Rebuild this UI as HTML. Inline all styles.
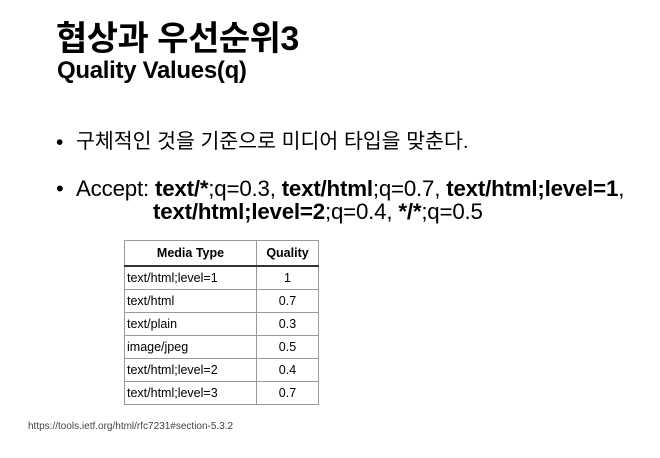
<!DOCTYPE html>
<html><head><meta charset="utf-8"><style>
body{margin:0;width:660px;height:458px;background:#fff;position:relative;overflow:hidden;font-family:"Liberation Sans","Noto Sans CJK KR",sans-serif;color:#000}
.a{position:absolute;white-space:nowrap;line-height:1.15}
table{position:absolute;left:124px;top:240px;border-collapse:collapse;font-size:12.5px;font-family:"Liberation Sans",sans-serif}
td,th{border:1px solid #999;padding:0 2px;height:22px}
th{height:24px;border-bottom:2px solid #333;font-weight:bold}
td:first-child{width:127px;text-align:left}
td:last-child{width:57px;text-align:center}
</style></head><body>
<div class="a" style="left:56px;top:20px;font-size:34px;font-weight:bold;letter-spacing:-0.5px">협상과 우선순위3</div>
<div class="a" style="left:57px;top:57px;font-size:24px;font-weight:bold;letter-spacing:-0.3px">Quality Values(q)</div>
<div class="a" style="left:56px;top:131px;font-size:21px">•</div>
<div class="a" style="left:76px;top:130px;font-size:20.5px">구체적인 것을 기준으로 미디어 타입을 맞춘다.</div>
<div class="a" style="left:56px;top:176px;font-size:22px">•</div>
<div class="a" style="left:76px;top:176px;font-size:22.3px;letter-spacing:-0.2px">Accept: <b>text/*</b>;q=0.3, <b>text/html</b>;q=0.7, <b>text/html;level=1</b>,</div>
<div class="a" style="left:153px;top:199px;font-size:22.3px;letter-spacing:-0.2px"><b>text/html;level=2</b>;q=0.4, <b>*/*</b>;q=0.5</div>
<table>
<tr><th>Media Type</th><th>Quality</th></tr>
<tr><td>text/html;level=1</td><td>1</td></tr>
<tr><td>text/html</td><td>0.7</td></tr>
<tr><td>text/plain</td><td>0.3</td></tr>
<tr><td>image/jpeg</td><td>0.5</td></tr>
<tr><td>text/html;level=2</td><td>0.4</td></tr>
<tr><td>text/html;level=3</td><td>0.7</td></tr>
</table>
<div class="a" style="left:28px;top:421px;font-size:10px;color:#444">https://tools.ietf.org/html/rfc7231#section-5.3.2</div>
</body></html>
